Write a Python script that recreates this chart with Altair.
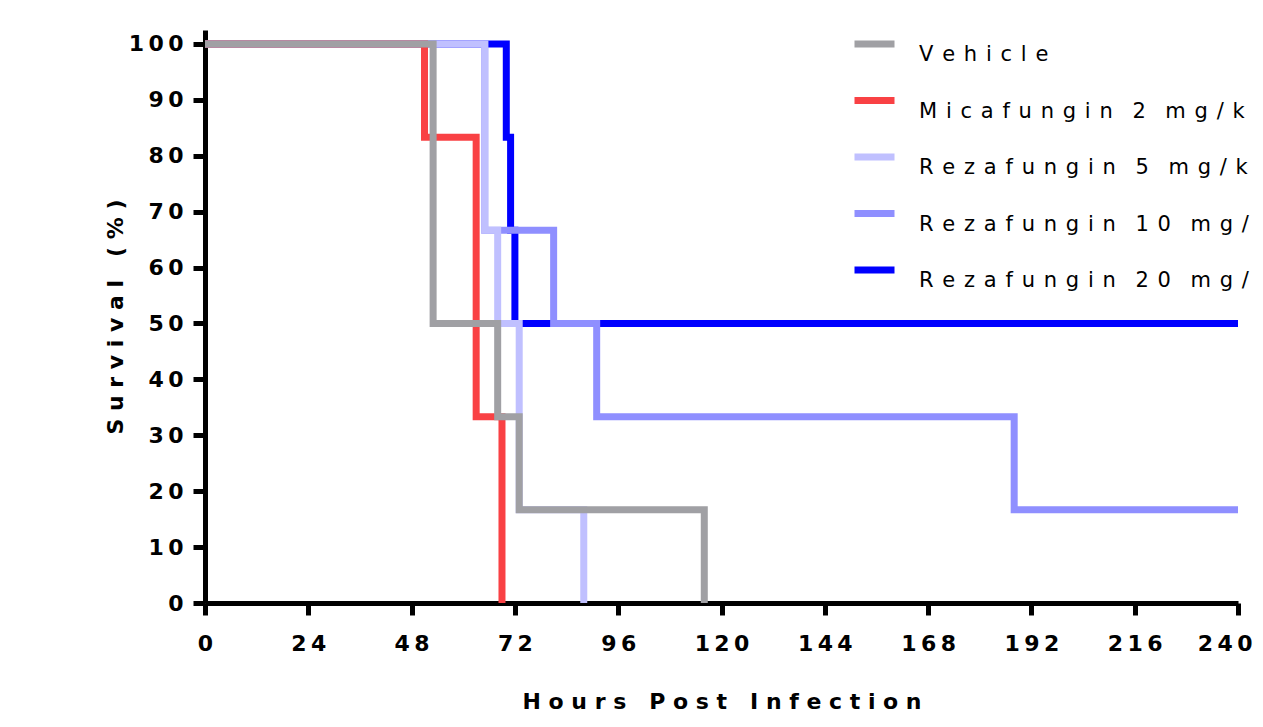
import altair as alt
import pandas as pd

# ---- data ----
series_names = ["Vehicle", "Micafungin 2 mg/kg", "Rezafungin 5 mg/kg",
                "Rezafungin 10 mg/kg", "Rezafungin 20 mg/kg"]
series_colors = ["#A0A0A4", "#F94144", "#C0C0FF", "#8F8FFF", "#0000FF"]

vehicle_hours = [0, 53, 68, 73, 116]
vehicle_surv = [100, 50, 33.33, 16.67, 0]
mica2_hours = [0, 51, 63, 69]
mica2_surv = [100, 83.33, 33.33, 0]
reza5_hours = [0, 65, 68, 73, 88]
reza5_surv = [100, 66.67, 50, 16.67, 0]
reza10_hours = [0, 65, 81, 91, 188, 240]
reza10_surv = [100, 66.67, 50, 33.33, 16.67, 16.67]
reza20_hours = [0, 70, 71, 72, 240]
reza20_surv = [100, 83.33, 66.67, 50, 50]

x_ticks = [0, 24, 48, 72, 96, 120, 144, 168, 192, 216, 240]
y_ticks = [0, 10, 20, 30, 40, 50, 60, 70, 80, 90, 100]

x_title = "Hours Post Infection"
y_title = "Survival (%)"

# draw order: last listed is drawn on top
series_data = [
    ("Rezafungin 20 mg/kg", reza20_hours, reza20_surv),
    ("Rezafungin 10 mg/kg", reza10_hours, reza10_surv),
    ("Rezafungin 5 mg/kg", reza5_hours, reza5_surv),
    ("Micafungin 2 mg/kg", mica2_hours, mica2_surv),
    ("Vehicle", vehicle_hours, vehicle_surv),
]
rows = []
for name, hs, vs in series_data:
    for h, v in zip(hs, vs):
        rows.append({"series": name, "hours": h, "survival": v})
df = pd.DataFrame(rows)

NB = "\u00a0"


def spaced(s, gap=NB):
    return gap.join(NB if c == " " else c for c in s)


FONT = "DejaVu Sans"
LEG_EXPR = "join(split(replace(datum.label, / /g, '\u200a'), ''), '\u00a0\u200a')"
last_x = x_ticks[-1]

chart = alt.Chart(df).mark_line(
    interpolate="step-after", strokeWidth=7, strokeJoin="miter", strokeCap="butt"
).encode(
    x=alt.X("hours:Q",
            scale=alt.Scale(domain=[0, 240], nice=False, zero=False),
            axis=alt.Axis(values=x_ticks, title=spaced(x_title), labelPadding=18,
                          labelFlush=False, titlePadding=37, titleFontSize=22,
                          labelAlign={"condition": {"test": f"datum.value == {last_x}", "value": "right"},
                                      "value": "center"},
                          labelOffset={"condition": {"test": f"datum.value == {last_x}", "value": 14},
                                       "value": 0},
                          labelExpr="join(split(datum.label, ''), '\u2009')")),
    y=alt.Y("survival:Q",
            scale=alt.Scale(domain=[0, 102.5], nice=False),
            axis=alt.Axis(values=y_ticks, title=spaced(y_title), labelPadding=10,
                          labelFlush=False, titlePadding=1, titleFontSize=22,
                          labelExpr="join(split(datum.label, ''), '\u2009')")),
    color=alt.Color("series:N",
                    scale=alt.Scale(domain=series_names, range=series_colors),
                    legend=alt.Legend(title=None, orient="none", legendX=646, legendY=-9.5,
                                      symbolType="stroke", symbolSize=1600,
                                      symbolStrokeWidth=7, labelFont=FONT,
                                      labelFontSize=21, labelColor="black",
                                      labelBaseline="top", labelOffset=21,
                                      rowPadding=11.5, padding=0, labelLimit=0,
                                      labelExpr=LEG_EXPR)),
).properties(
    width=1033, height=573,
    autosize=alt.AutoSizeParams(type="none"),
    padding={"left": 197, "top": 22, "right": 16, "bottom": 109},
).configure_view(stroke=None).configure_axis(
    grid=False, domainColor="black", domainWidth=5, tickColor="black",
    tickWidth=5, tickSize=12, labelFont=FONT, labelFontWeight="bold",
    labelFontSize=22, labelColor="black", titleFont=FONT,
    titleFontWeight="bold", titleColor="black",
)

chart.save("out.html", embed_options={"renderer": "svg", "actions": False})
